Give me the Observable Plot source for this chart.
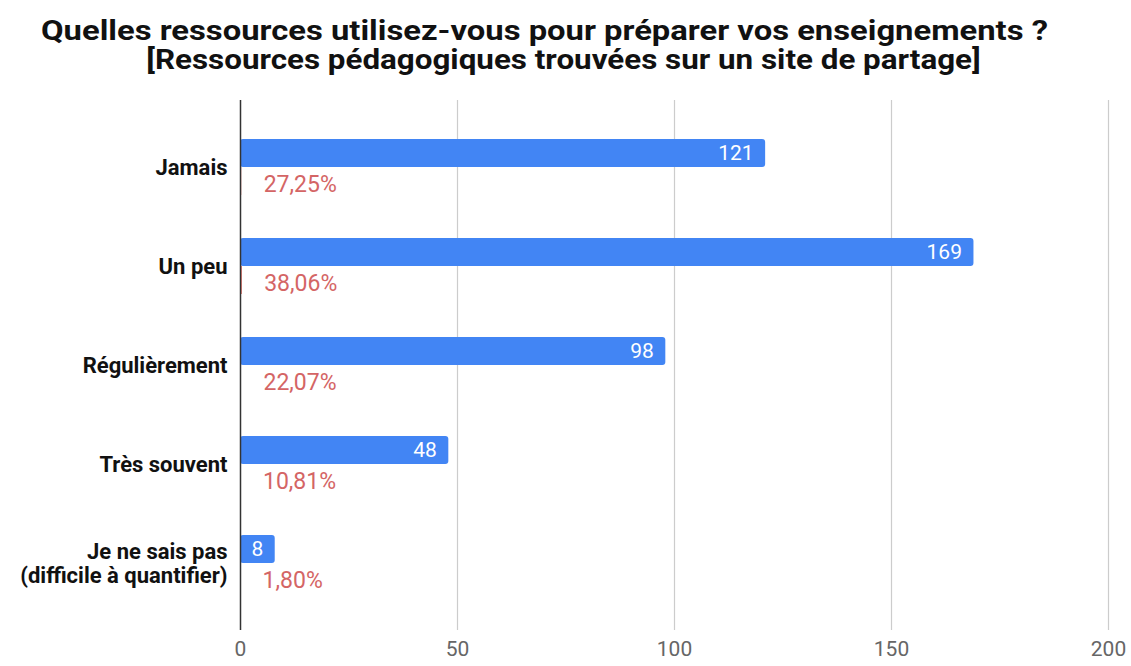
<!DOCTYPE html>
<html>
<head>
<meta charset="utf-8">
<script src="https://cdn.jsdelivr.net/npm/d3@7"></script>
<script src="https://cdn.jsdelivr.net/npm/@observablehq/plot@0.6"></script>
<style>
  html, body { margin: 0; padding: 0; background: #fff; }
  #title { height: 88px; box-sizing: border-box; padding-top: 16px; text-align: center;
    font-family: Roboto, sans-serif; font-weight: 700; font-size: 28px; line-height: 29px; color: #111; }
  #title .l1 { transform: translateX(-21px) scaleX(1.17); }
  #title .l2 { transform: translateX(-2px) scaleX(1.12); }
</style>
</head>
<body>
<div id="title"><div class="l1">Quelles ressources utilisez-vous pour préparer vos enseignements ?</div><div class="l2">[Ressources pédagogiques trouvées sur un site de partage]</div></div>
<div id="chart"></div>
<script>
const categories = ["Jamais", "Un peu", "Régulièrement", "Très souvent", "Je ne sais pas\n(difficile à quantifier)"];
const counts = [121, 169, 98, 48, 8];
const percents = [27.25, 38.06, 22.07, 10.81, 1.80];
const percentLabels = ["27,25%", "38,06%", "22,07%", "10,81%", "1,80%"];
const xTicks = [0, 50, 100, 150, 200];

const rows = categories.map((c, i) => ({cat: c, count: counts[i], pct: percents[i] / 100, pctLabel: percentLabels[i]}));

const chart = Plot.plot({
  width: 1131,
  height: 578,
  marginLeft: 240,
  marginRight: 23,
  marginTop: 12,
  marginBottom: 36,
  style: {fontFamily: "Roboto, sans-serif", background: "white"},
  x: {domain: [0, 200], ticks: xTicks, label: null},
  y: {domain: categories, paddingInner: 0.437, paddingOuter: 0.372, label: null},
  marks: [
    Plot.ruleX(xTicks.filter(d => d > 0), {stroke: "#cccccc", strokeWidth: 1.2}),
    Plot.barX(rows, {y: "cat", x: "count", fill: "#4285f4", insetBottom: 28, rx: 3}),
    Plot.barX(rows, {y: "cat", x: "pct", fill: "#db4437", insetTop: 28}),
    Plot.ruleX([0], {stroke: "#333", strokeWidth: 1.5}),
    Plot.text(rows, {y: "cat", x: "count", text: d => String(d.count), fill: "white", textAnchor: "end", dx: -12, dy: -14, fontSize: 21}),
    Plot.text(rows, {y: "cat", x: "pct", text: "pctLabel", fill: "#d46565", textAnchor: "start", dx: 22, dy: 17, fontSize: 23}),
    Plot.axisY({tickSize: 0, tickPadding: 13, fontSize: 22, fontWeight: 700, fill: "#111", label: null, lineHeight: 1.1}),
    Plot.axisX({ticks: xTicks, tickSize: 0, tickPadding: 11, fontSize: 21, fill: "#666", label: null})
  ]
});
document.getElementById("chart").appendChild(chart);
</script>
</body>
</html>
